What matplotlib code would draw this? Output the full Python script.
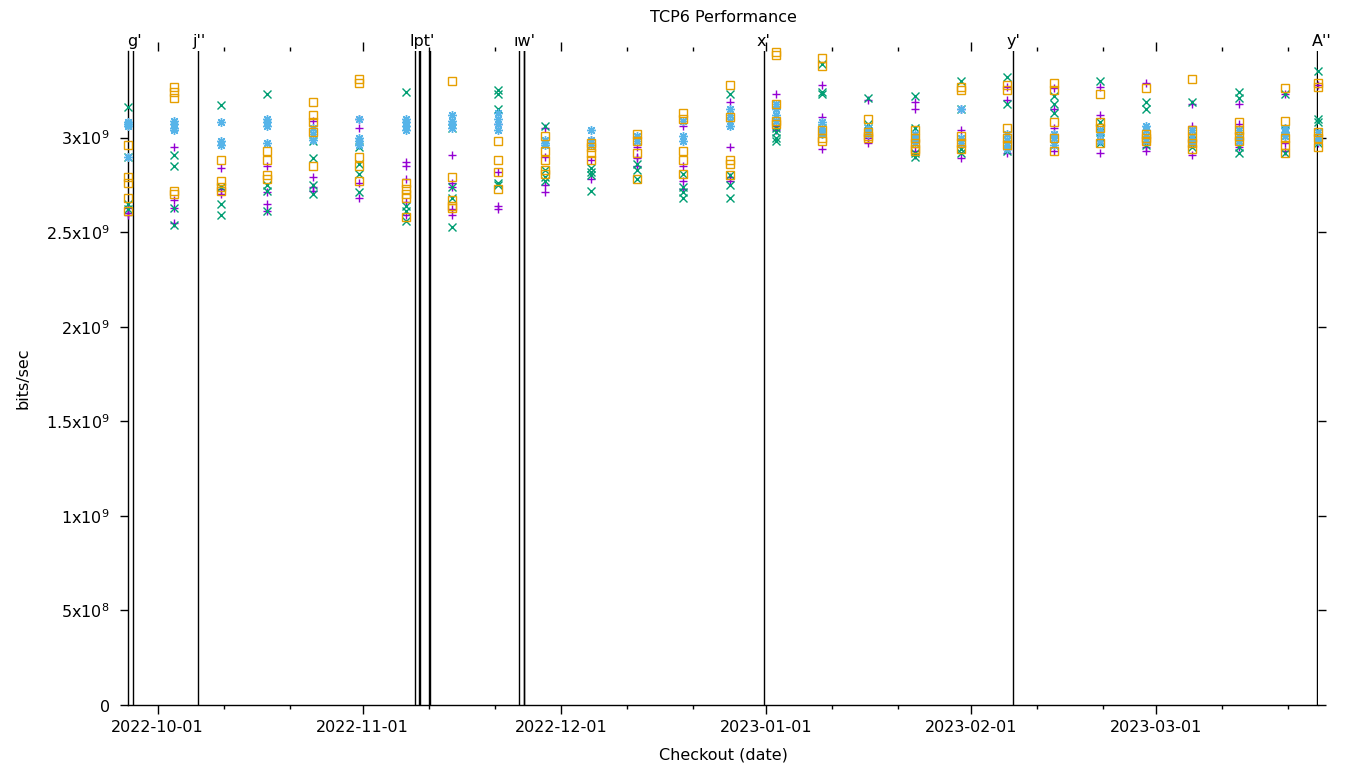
"""TCP6 throughput per checkout date, gnuplot-style scatter with event markers."""

import matplotlib

matplotlib.use("Agg")
import matplotlib.dates as mdates
import matplotlib.pyplot as plt
import numpy as np
import pandas as pd

# Weekly checkout dates (one column of points per date).
run_dates = [
    "2022-09-27", "2022-10-04", "2022-10-11", "2022-10-18", "2022-10-25",
    "2022-11-01", "2022-11-08", "2022-11-15", "2022-11-22", "2022-11-29",
    "2022-12-06", "2022-12-13", "2022-12-20", "2022-12-27", "2023-01-03",
    "2023-01-10", "2023-01-17", "2023-01-24", "2023-01-31", "2023-02-07",
    "2023-02-14", "2023-02-21", "2023-02-28", "2023-03-07", "2023-03-14",
    "2023-03-21", "2023-03-26",
]

# Throughput in Gbit/s, several runs per date.
series_1 = [
    [2.60, 2.59, 2.63], [2.95, 2.67, 2.63, 2.55], [2.84, 2.70, 2.73],
    [2.85, 2.71, 2.65, 2.61], [3.09, 2.79, 2.74, 2.72], [3.10, 3.05, 2.76, 2.68],
    [2.87, 2.85, 2.78, 2.66, 2.59], [2.91, 2.76, 2.74, 2.62, 2.59], [3.07, 2.82, 2.64, 2.62],
    [3.05, 2.90, 2.75, 2.71], [2.99, 2.88, 2.78], [2.95, 2.90, 2.89, 2.85],
    [3.06, 2.85, 2.77, 2.73], [3.19, 2.95, 2.79, 2.77], [3.23, 3.06, 3.05, 3.04],
    [3.28, 3.11, 3.03, 2.94], [3.20, 3.00, 2.97], [3.19, 3.15, 2.93, 2.91],
    [3.15, 3.04, 2.96, 2.89], [3.27, 3.20, 2.94, 2.92], [3.26, 3.15, 3.05, 2.93],
    [3.27, 3.12, 2.98, 2.92], [3.29, 2.95, 2.93], [3.18, 3.06, 2.91],
    [3.18, 3.07, 2.98, 2.95], [3.23, 2.97, 2.93], [3.28, 3.00, 2.97],
]
series_2 = [
    [3.16, 2.90, 2.65, 2.62], [2.91, 2.85, 2.63, 2.54], [3.17, 2.74, 2.65, 2.59],
    [3.23, 2.75, 2.72, 2.61], [2.98, 2.89, 2.75, 2.70], [2.95, 2.86, 2.81, 2.71],
    [3.24, 2.64, 2.61, 2.56], [3.05, 2.74, 2.68, 2.53], [3.25, 3.23, 3.15, 2.76, 2.75],
    [3.06, 2.83, 2.79, 2.77], [2.84, 2.82, 2.80, 2.72], [2.86, 2.83, 2.78],
    [2.81, 2.74, 2.71, 2.68], [3.23, 2.80, 2.75, 2.68], [3.05, 3.03, 3.00, 2.98],
    [3.39, 3.24, 3.23, 3.05], [3.21, 3.07, 3.05, 3.03], [3.22, 3.05, 2.92, 2.90],
    [3.30, 3.15, 2.94, 2.92], [3.32, 3.18, 2.96, 2.93], [3.22, 3.18, 3.13, 2.96],
    [3.30, 3.08, 3.03, 2.97], [3.19, 3.15, 2.96], [3.19, 2.99, 2.95],
    [3.24, 3.21, 2.95, 2.92], [3.23, 3.04, 2.92], [3.35, 3.10, 3.08, 2.97],
]
series_3 = [
    [3.08, 3.07, 3.06, 2.90], [3.09, 3.07, 3.05, 3.04], [3.08, 2.98, 2.96],
    [3.10, 3.08, 3.06, 2.97], [3.05, 3.02, 2.99], [3.10, 3.00, 2.98, 2.96],
    [3.10, 3.08, 3.06, 3.04], [3.12, 3.09, 3.07, 3.05], [3.13, 3.10, 3.07, 3.04],
    [2.99, 2.97, 2.96], [3.04, 2.99, 2.96], [3.01, 2.98],
    [3.09, 3.01, 2.98], [3.15, 3.12, 3.09, 3.06], [3.18, 3.15, 3.12, 3.09],
    [3.08, 3.05, 3.03, 3.02], [3.05, 3.03, 3.02], [3.02, 3.00, 2.97],
    [3.15, 3.00, 2.97], [3.02, 2.99, 2.96, 2.94], [3.02, 3.00, 2.96],
    [3.04, 3.02, 2.98], [3.06, 3.04, 3.01, 2.98], [3.04, 3.01, 2.98, 2.97],
    [3.04, 3.01, 2.98], [3.05, 3.03, 3.01], [3.03, 3.00, 2.98],
]
series_4 = [
    [2.96, 2.79, 2.76, 2.68, 2.61], [3.27, 3.24, 3.21, 2.72, 2.70], [2.88, 2.77, 2.74, 2.72],
    [2.93, 2.88, 2.80, 2.78], [3.19, 3.12, 3.08, 3.03, 2.85], [3.31, 3.29, 2.90, 2.85, 2.77],
    [2.76, 2.73, 2.70, 2.68, 2.58], [3.30, 2.79, 2.67, 2.64, 2.63], [2.98, 2.88, 2.82, 2.73],
    [3.01, 2.93, 2.88, 2.83, 2.81], [2.97, 2.95, 2.92, 2.88], [3.02, 2.98, 2.92, 2.78],
    [3.13, 3.10, 2.93, 2.88, 2.81], [3.28, 3.11, 2.88, 2.86, 2.80], [3.455, 3.435, 3.18, 3.09, 3.07],
    [3.42, 3.38, 3.04, 3.00, 2.98], [3.10, 3.03, 3.01, 3.00], [3.04, 3.00, 2.97, 2.94, 2.93],
    [3.27, 3.25, 3.01, 2.97, 2.94], [3.28, 3.25, 3.05, 3.00, 2.96], [3.29, 3.25, 3.08, 3.00, 2.93],
    [3.23, 3.08, 3.05, 2.97], [3.26, 3.02, 3.00, 2.98], [3.31, 3.04, 3.00, 2.97, 2.94],
    [3.08, 3.04, 3.01, 2.98], [3.26, 3.09, 3.00, 2.96, 2.92], [3.29, 3.27, 3.03, 3.00, 2.95],
]

# Version-change events drawn as vertical lines.
event_times = [
    "2022-09-27 18:00", "2022-10-07 14:00", "2022-11-09 11:00", "2022-11-09 23:00",
    "2022-11-10 03:00", "2022-11-11 14:00", "2022-11-11 17:00", "2022-11-25 02:00",
    "2022-11-25 20:00", "2022-11-25 23:00", "2023-01-01 05:00", "2023-02-07 19:00",
    "2023-03-25 19:00",
]
event_labels = ["g'", "j''", "lpt'", "ıw'", "x'", "y'", "A''"]
event_label_times = [
    "2022-09-28 00:00", "2022-10-07 18:00", "2022-11-10 13:00", "2022-11-26 01:00",
    "2023-01-01 04:00", "2023-02-08 00:00", "2023-03-26 14:00",
]

y_ticks = [0, 0.5e9, 1e9, 1.5e9, 2e9, 2.5e9, 3e9]
y_tick_labels = ["0", "5x10^{8}", "1x10^{9}", "1.5x10^{9}", "2x10^{9}", "2.5x10^{9}", "3x10^{9}"]
y_top = 3.458e9

STYLES = [
    ("#9400d3", "+", 6.2),
    ("#009e73", "x", 5.2),
    ("#56b4e9", (8, 2, 0), 6.4),
    ("#e69f00", "s", 5.2),
]


def _flatten(dates, groups):
    xs, ys = [], []
    for d, vals in zip(dates, groups):
        for v in vals:
            xs.append(d)
            ys.append(v * 1e9)
    return np.array(xs), np.array(ys)


def main() -> None:
    plt.rcParams["font.family"] = ["DejaVu Sans"]
    plt.rcParams["font.size"] = 11.5

    fig = plt.figure(figsize=(13.6, 7.68), dpi=100)
    ax = fig.add_axes([128 / 1360, 1 - 705 / 768, 1190 / 1360, 654 / 768])

    dates = mdates.date2num(pd.to_datetime(run_dates))
    for groups, (color, marker, size) in zip([series_1, series_2, series_3, series_4], STYLES):
        xs, ys = _flatten(dates, groups)
        ax.plot(xs, ys, linestyle="none", marker=marker, markersize=size,
                markerfacecolor="none", markeredgecolor=color, markeredgewidth=1.0,
                clip_on=False, zorder=3)

    for t in mdates.date2num(pd.to_datetime(event_times)):
        ax.axvline(t, color="black", linewidth=1.0, zorder=2)
    label_x = mdates.date2num(pd.to_datetime(event_label_times))
    for x, lab in zip(label_x, event_labels):
        ax.text(x, 1.0076, lab, transform=ax.get_xaxis_transform(), ha="center",
                va="baseline", fontsize=11.5, clip_on=False)

    ax.set_xlim(dates[0], dates[-1])
    ax.set_ylim(0, y_top)

    major = pd.date_range("2022-10-01", "2023-03-01", freq="MS") + pd.Timedelta(hours=12)
    minor = [m + pd.Timedelta(days=k) for m in major for k in (10, 20)]
    ax.set_xticks(mdates.date2num(major))
    ax.set_xticklabels([m.strftime("%Y-%m-%d") for m in major])
    ax.set_xticks(mdates.date2num(minor), minor=True)

    ax.set_yticks(y_ticks)
    ax.set_yticklabels([r"$\mathregular{" + s + "}$" for s in y_tick_labels])

    for side in ("top", "right"):
        ax.spines[side].set_visible(False)
    for side in ("left", "bottom"):
        ax.spines[side].set_linewidth(1.0)

    ax.tick_params(axis="both", which="both", direction="out", top=True, right=True,
                   width=1.0, colors="black")
    ax.tick_params(axis="x", which="major", length=6.5, pad=4)
    ax.tick_params(axis="x", which="minor", length=3.2)
    ax.tick_params(axis="y", which="major", length=6, pad=7)

    ax.set_title("TCP6 Performance", y=1.038, va="center", fontsize=11.5)
    ax.set_xlabel("Checkout (date)", va="center")
    ax.xaxis.set_label_coords(0.5, (705 - 755) / 654)
    ax.set_ylabel("bits/sec", va="center")
    ax.yaxis.set_label_coords((23 - 128) / 1190, 0.5)

    fig.savefig("out.png", dpi=100)
    plt.close(fig)


if __name__ == "__main__":
    main()
